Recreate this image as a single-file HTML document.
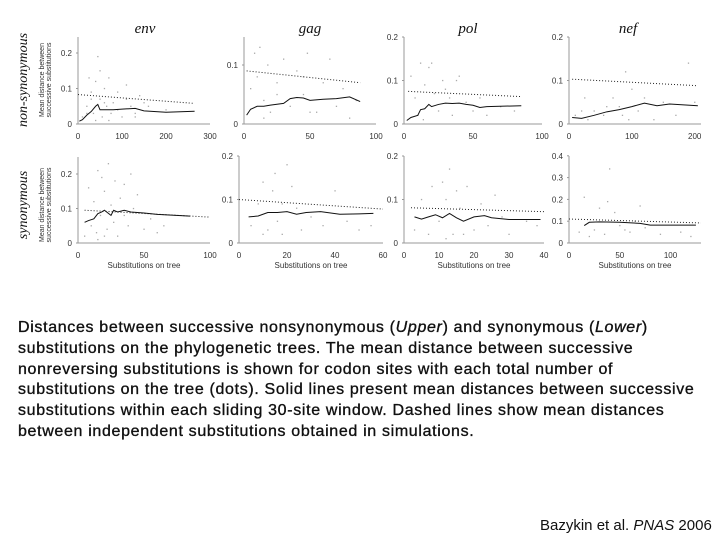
<!DOCTYPE html>
<html><head><meta charset="utf-8"><style>
body{margin:0;width:720px;height:540px;background:#fff;overflow:hidden;position:relative;font-family:"Liberation Sans",sans-serif}
#cap{position:absolute;left:18px;top:318px;font-size:16px;line-height:20.8px;letter-spacing:0.66px;color:#111;-webkit-text-stroke:0.35px #111;white-space:nowrap}
#cite{position:absolute;left:540px;top:517px;font-size:15px;color:#111;white-space:nowrap}
</style></head><body>
<svg id="fig" width="720" height="300" style="position:absolute;left:0;top:0" xmlns="http://www.w3.org/2000/svg"></svg>
<div id="cap">Distances between successive nonsynonymous (<i>Upper</i>) and synonymous (<i>Lower</i>)<br>substitutions on the phylogenetic trees. The mean distance between successive<br>nonreversing substitutions is shown for codon sites with each total number of<br>substitutions on the tree (dots). Solid lines present mean distances between successive<br>substitutions within each sliding 30-site window. Dashed lines show mean distances<br>between independent substitutions obtained in simulations.</div>
<div id="cite">Bazykin et al. <i>PNAS</i> 2006</div>
<script>
// Panel data
const envTopLineX=[3,10,20,30,40,45,50,60,80,100,130,150,200,265];
const envTopLineY=[0.008,0.012,0.025,0.035,0.05,0.055,0.04,0.04,0.04,0.042,0.044,0.037,0.033,0.036];
const envTopSim=[[0,0.083],[265,0.058]];
const envTopDotX=[10,20,25,30,35,40,45,50,55,60,65,70,75,80,90,100,110,120,130,140,150,30,50,70,90,60,40,20,110,130,160,200];
const envTopDotY=[0.02,0.05,0.13,0.09,0.03,0.12,0.19,0.07,0.02,0.1,0.05,0.13,0.03,0.06,0.09,0.02,0.07,0.05,0.03,0.08,0.06,0.07,0.15,0.01,0.04,0.06,0.01,0.03,0.11,0.02,0.05,0.04];
const gagTopLineX=[2,5,10,15,20,30,35,40,45,50,60,70,80,88];
const gagTopLineY=[0.015,0.025,0.03,0.03,0.032,0.035,0.043,0.045,0.044,0.04,0.042,0.043,0.046,0.038];
const gagTopSim=[[2,0.09],[88,0.07]];
const gagTopDotX=[5,8,10,12,15,18,20,25,30,35,40,45,48,55,60,65,70,75,80,85,15,25,45,50];
const gagTopDotY=[0.06,0.12,0.08,0.13,0.04,0.1,0.02,0.07,0.11,0.03,0.09,0.05,0.12,0.02,0.07,0.11,0.03,0.06,0.01,0.04,0.01,0.05,0.08,0.02];
const polTopLineX=[2,5,10,12,15,18,20,25,30,35,40,45,50,55,60,85];
const polTopLineY=[0.008,0.015,0.02,0.033,0.035,0.045,0.04,0.045,0.048,0.047,0.048,0.045,0.043,0.038,0.04,0.042];
const polTopSim=[[3,0.075],[85,0.063]];
const polTopDotX=[5,8,10,12,15,18,20,22,25,28,30,35,38,40,45,50,55,60,70,80,14,33];
const polTopDotY=[0.11,0.06,0.02,0.14,0.09,0.13,0.14,0.07,0.03,0.1,0.08,0.02,0.1,0.11,0.05,0.03,0.06,0.02,0.04,0.03,0.01,0.06];
const nefTopLineX=[5,20,40,60,80,100,120,140,160,205];
const nefTopLineY=[0.015,0.013,0.02,0.028,0.033,0.04,0.048,0.042,0.046,0.042];
const nefTopSim=[[5,0.103],[205,0.088]];
const nefTopDotX=[10,20,30,40,55,70,80,90,95,100,110,120,135,150,170,190,200,60,25,85];
const nefTopDotY=[0.02,0.03,0.01,0.03,0.02,0.06,0.04,0.12,0.01,0.08,0.03,0.06,0.01,0.05,0.02,0.14,0.05,0.04,0.06,0.02];
const envBotLineX=[5,8,12,15,18,20,25,27,30,35,40,50,60,85];
const envBotLineY=[0.06,0.065,0.07,0.085,0.09,0.095,0.08,0.095,0.09,0.095,0.09,0.087,0.083,0.078];
const envBotSim=[[5,0.095],[100,0.075]];
const envBotDotX=[5,8,10,12,14,15,17,18,20,22,23,25,27,28,30,32,35,38,40,42,45,50,55,60,65,15,20,35];
const envBotDotY=[0.02,0.16,0.05,0.12,0.03,0.21,0.08,0.19,0.15,0.04,0.23,0.11,0.06,0.18,0.02,0.13,0.17,0.05,0.2,0.1,0.14,0.04,0.07,0.03,0.05,0.01,0.02,0.08];
const gagBotLineX=[4,8,12,16,20,24,28,34,42,50,56];
const gagBotLineY=[0.06,0.062,0.07,0.07,0.072,0.066,0.07,0.072,0.066,0.067,0.068];
const gagBotSim=[[0,0.1],[60,0.078]];
const gagBotDotX=[5,8,10,12,14,15,16,18,20,22,24,26,30,35,40,45,50,55,10,18];
const gagBotDotY=[0.04,0.09,0.14,0.03,0.12,0.16,0.05,0.02,0.18,0.13,0.08,0.03,0.06,0.04,0.12,0.05,0.03,0.04,0.02,0.09];
const polBotLineX=[3,5,7,9,11,13,15,17,20,23,25,30,39];
const polBotLineY=[0.06,0.055,0.06,0.065,0.058,0.068,0.058,0.05,0.06,0.063,0.058,0.054,0.054];
const polBotSim=[[2,0.081],[40,0.072]];
const polBotDotX=[3,5,7,8,10,11,12,13,14,15,16,18,20,22,24,26,28,30,35,38,12,17];
const polBotDotY=[0.03,0.1,0.02,0.13,0.05,0.14,0.1,0.17,0.02,0.12,0.08,0.13,0.03,0.09,0.04,0.11,0.06,0.02,0.05,0.04,0.01,0.02];
const nefBotLineX=[15,20,30,50,70,80,100,125];
const nefBotLineY=[0.08,0.095,0.097,0.095,0.09,0.082,0.082,0.082];
const nefBotSim=[[0,0.11],[130,0.092]];
const nefBotDotX=[10,15,20,25,30,35,40,45,50,55,60,70,75,90,110,120,38,65];
const nefBotDotY=[0.05,0.21,0.03,0.06,0.16,0.04,0.34,0.14,0.08,0.06,0.05,0.17,0.07,0.04,0.05,0.03,0.19,0.1];

const envTopXTicks=[0,100,200,300], envTopYTicks=[0,0.1,0.2];
const gagTopXTicks=[0,50,100], gagTopYTicks=[0,0.1];
const polTopXTicks=[0,50,100], polTopYTicks=[0,0.1,0.2];
const nefTopXTicks=[0,100,200], nefTopYTicks=[0,0.1,0.2];
const envBotXTicks=[0,50,100], envBotYTicks=[0,0.1,0.2];
const gagBotXTicks=[0,20,40,60], gagBotYTicks=[0,0.1,0.2];
const polBotXTicks=[0,10,20,30,40], polBotYTicks=[0,0.1,0.2];
const nefBotXTicks=[0,50,100], nefBotYTicks=[0,0.1,0.2,0.3,0.4];

const NS='http://www.w3.org/2000/svg';
const svg=document.getElementById('fig');
function mk(t,a,p){const e=document.createElementNS(NS,t);for(const k in a)e.setAttribute(k,a[k]);(p||svg).appendChild(e);return e;}

function panel(name,px,top,xmax,ymax,yZeroPix,yPerUnit,xEndPix,topPix,xt,yt,lx,ly,sim,dx,dy,bottomTitle){
  const g=mk('g',{});
  
  
  const X=v=>px+v*(xEndPix-px)/xmax;
  const Y=v=>yZeroPix-v*yPerUnit;
  const ax=mk('path',{d:`M${px},${topPix}V${yZeroPix}H${xEndPix}`,stroke:'#999','stroke-width':1,fill:'none'},g);
  
  
  xt.forEach(v=>{const t=mk('text',{x:X(v),y:yZeroPix+15,'font-size':8,'text-anchor':'middle',fill:'#333'},g);t.textContent=v;
    
    });
  yt.forEach(v=>{const t=mk('text',{x:px-6,y:Y(v)+3,'font-size':8,'text-anchor':'end',fill:'#333'},g);t.textContent=v;
    
    
    mk('line',{x1:px-2,x2:px,y1:Y(v),y2:Y(v),stroke:'#999'},g);});
  dx.forEach((v,i)=>{const c=mk('rect',{x:X(v)-0.6,y:Y(dy[i])-0.6,width:1.3,height:1.3,fill:'#aaa'},g);
    
    });
  const s=mk('line',{x1:X(sim[0][0]),y1:Y(sim[0][1]),x2:X(sim[1][0]),y2:Y(sim[1][1]),stroke:'#222','stroke-width':1,'stroke-dasharray':'1,2'},g);
  
  
  const l=mk('polyline',{points:lx.map((v,i)=>X(v)+','+Y(ly[i])).join(' '),fill:'none',stroke:'#111','stroke-width':1},g);
  
  
  if(bottomTitle){const t=mk('text',{x:(px+xEndPix)/2,y:yZeroPix+25,'font-size':8,'text-anchor':'middle',fill:'#333'},g);t.textContent='Substitutions on tree';
    
    }
}
panel('env-top',78,0,300,0.25,124,355,210,37,envTopXTicks,envTopYTicks,envTopLineX,envTopLineY,envTopSim,envTopDotX,envTopDotY,false);
panel('gag-top',244,0,100,0.15,124,590,376,37,gagTopXTicks,gagTopYTicks,gagTopLineX,gagTopLineY,gagTopSim,gagTopDotX,gagTopDotY,false);
panel('pol-top',404,0,100,0.2,124,435,542,37,polTopXTicks,polTopYTicks,polTopLineX,polTopLineY,polTopSim,polTopDotX,polTopDotY,false);
panel('nef-top',569,0,210,0.2,124,435,701,37,nefTopXTicks,nefTopYTicks,nefTopLineX,nefTopLineY,nefTopSim,nefTopDotX,nefTopDotY,false);
panel('env-bottom',78,0,100,0.25,243,345,210,157,envBotXTicks,envBotYTicks,envBotLineX,envBotLineY,envBotSim,envBotDotX,envBotDotY,true);
panel('gag-bottom',239,0,60,0.2,243,435,383,156,gagBotXTicks,gagBotYTicks,gagBotLineX,gagBotLineY,gagBotSim,gagBotDotX,gagBotDotY,true);
panel('pol-bottom',404,0,40,0.2,243,435,544,156,polBotXTicks,polBotYTicks,polBotLineX,polBotLineY,polBotSim,polBotDotX,polBotDotY,true);
panel('nef-bottom',569,0,130,0.4,243,218,701,156,nefBotXTicks,nefBotYTicks,nefBotLineX,nefBotLineY,nefBotSim,nefBotDotX,nefBotDotY,true);

[['env',145],['gag',310],['pol',468],['nef',628]].forEach(([n,x])=>{
  const t=mk('text',{x:x,y:33,'font-size':15,'font-style':'italic','font-family':'Liberation Serif, serif','text-anchor':'middle',fill:'#111'});
  t.textContent=n;
  
  
});
[['non-synonymous',80],['synonymous',205]].forEach(([n,y])=>{
  const t=mk('text',{x:0,y:0,'font-size':14,'font-style':'italic','font-family':'Liberation Serif, serif','text-anchor':'middle',fill:'#111',transform:`translate(27,${y}) rotate(-90)`});
  t.textContent=n;
  
  
  const a=mk('text',{x:0,y:0,'font-size':7,'text-anchor':'middle',fill:'#333',transform:`translate(44,${y}) rotate(-90)`});
  a.textContent='Mean distance between';
  
  
  const b=mk('text',{x:0,y:0,'font-size':7,'text-anchor':'middle',fill:'#333',transform:`translate(51,${y}) rotate(-90)`});
  b.textContent='successive substitutions';
  
  
});
</script>
</body></html>
